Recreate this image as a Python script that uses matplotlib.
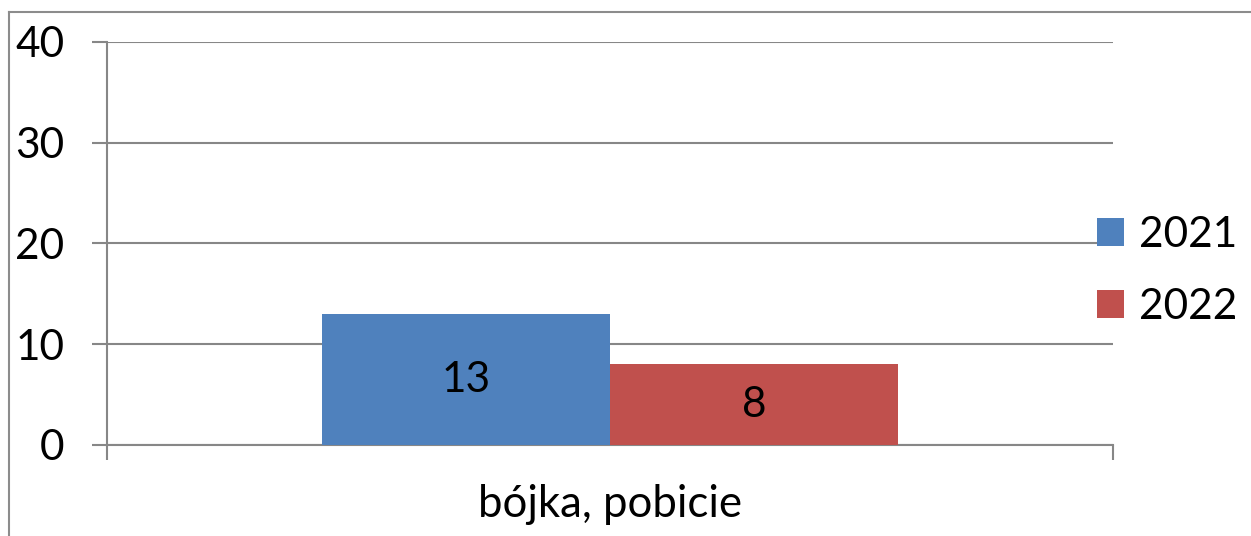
import numpy as np
import matplotlib.pyplot as plt
from matplotlib.lines import Line2D
from matplotlib.patches import Patch

# ===== データ =====
category = ["bójka, pobicie"]
years = ["2021", "2022"]
values_2021 = [13]
values_2022 = [8]
y_ticks = [0, 10, 20, 30, 40]

colors = ["#4F81BD", "#C0504D"]
grid_color = "#878787"
fs = 30.5

plt.rcParams['font.family'] = ['Lato', 'DejaVu Sans']

W, H = 1251, 536
fig = plt.figure(figsize=(W / 100, H / 100), dpi=100)
ax = fig.add_axes([107 / W, 1 - 445 / H, (1113 - 107) / W, (445 - 42) / H])

# 外枠（左と上のみ見える）
fig.add_artist(Line2D([9 / W, 9 / W], [0, 1 - 12 / H], transform=fig.transFigure,
                      color="#8c8c8c", lw=1.5))
fig.add_artist(Line2D([9 / W, 1], [1 - 12 / H, 1 - 12 / H], transform=fig.transFigure,
                      color="#8c8c8c", lw=1.5))

x = np.arange(len(category))
bw = 288 / 1006
b1 = ax.bar(x - bw / 2, values_2021, bw, color=colors[0], zorder=3)
b2 = ax.bar(x + bw / 2, values_2022, bw, color=colors[1], zorder=3)

for bars in (b1, b2):
    for r in bars:
        ax.text(r.get_x() + r.get_width() / 2, r.get_height() / 2, f"{r.get_height():g}",
                ha="center", va="center", fontsize=fs, zorder=4)

ax.set_xlim(-0.5, 0.5)
ax.set_ylim(0, 40)
ax.set_yticks(y_ticks)
ax.set_yticklabels([str(v) for v in y_ticks], fontsize=fs)
ax.yaxis.grid(True, color=grid_color, lw=1.5, zorder=0)
ax.tick_params(axis="y", direction="out", length=10.8, width=1.5, color=grid_color, pad=20)

ax.set_xticks(x)
ax.set_xticklabels(category, fontsize=fs + 1)
ax.tick_params(axis="x", which="major", length=0, pad=28)
ax.set_xticks([-0.5, 0.5], minor=True)
ax.tick_params(axis="x", which="minor", direction="out", length=10.8, width=1.5, color=grid_color)

for s in ("top", "right"):
    ax.spines[s].set_visible(False)
for s in ("left", "bottom"):
    ax.spines[s].set_color(grid_color)
    ax.spines[s].set_linewidth(1.5)

handles = [Patch(facecolor=c, edgecolor="none") for c in colors]
fig.legend(handles, years, loc="center left", bbox_to_anchor=(1097 / W, 1 - 271 / H),
           frameon=False, fontsize=fs, handlelength=0.63, handleheight=0.63,
           handletextpad=0.35, labelspacing=0.8, borderaxespad=0, borderpad=0)

fig.savefig("out.png", dpi=100, facecolor="white")
